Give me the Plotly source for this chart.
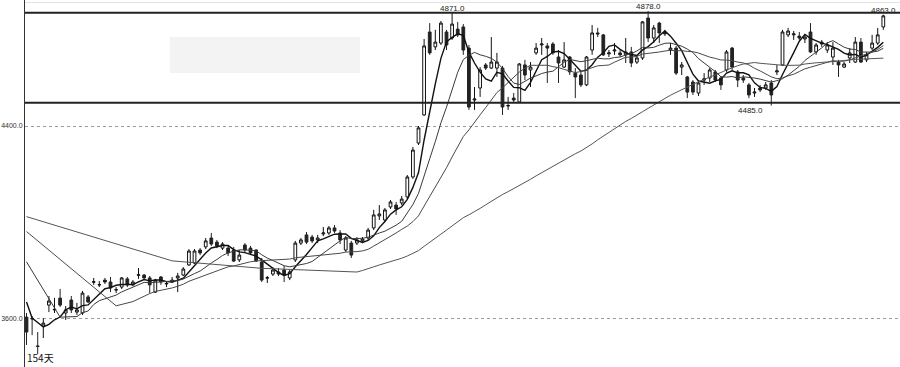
import plotly.graph_objects as go
import pandas as pd

# ---------------- data ----------------
opens = [3605, 3600, 3485, 3568, 3655, 3635, 3684, 3622, 3676, 3626,
         3622, 3689, 3750, 3739, 3759, 3751, 3718, 3730, 3764, 3739,
         3779, 3780, 3768, 3709, 3772, 3743, 3751, 3768, 3780, 3822,
         3830, 3884, 3897, 3934, 3917, 3892, 3892, 3884, 3843, 3905,
         3892, 3884, 3834, 3767, 3784, 3793, 3801, 3768, 3843, 3913,
         3947, 3938, 3926, 3951, 3955, 3976, 3955, 3884, 3913, 3913,
         3922, 3934, 3976, 4026, 4009, 4063, 4071, 4080, 4105, 4188,
         4329, 4446, 4791, 4729, 4745, 4791, 4766, 4803, 4812, 4724,
         4508, 4558, 4654, 4641, 4641, 4641, 4483, 4516, 4500, 4654,
         4633, 4704, 4737, 4733, 4741, 4687, 4645, 4687, 4620, 4612,
         4571, 4716, 4787, 4779, 4700, 4712, 4704, 4696, 4708, 4666,
         4683, 4849, 4766, 4828, 4791, 4716, 4724, 4645, 4604, 4583,
         4537, 4591, 4600, 4625, 4600, 4633, 4724, 4625, 4600, 4571,
         4537, 4558, 4558, 4579, 4625, 4654, 4779, 4779, 4774, 4762,
         4791, 4708, 4749, 4716, 4687, 4666, 4645, 4683, 4666, 4749,
         4675, 4724, 4745, 4812]
highs = [3622, 3609, 3543, 3601, 3693, 3685, 3722, 3651, 3693, 3664,
         3714, 3697, 3768, 3755, 3768, 3772, 3730, 3772, 3772, 3759,
         3809, 3784, 3776, 3764, 3776, 3755, 3772, 3789, 3813, 3888,
         3888, 3892, 3934, 3955, 3926, 3917, 3901, 3897, 3884, 3913,
         3901, 3888, 3851, 3776, 3813, 3809, 3818, 3801, 3922, 3934,
         3959, 3947, 3947, 3980, 3984, 3988, 3967, 3942, 3922, 3938,
         3938, 3976, 4051, 4071, 4059, 4092, 4084, 4109, 4196, 4313,
         4400, 4762, 4828, 4800, 4837, 4800, 4871, 4833, 4824, 4737,
         4562, 4645, 4662, 4770, 4704, 4650, 4521, 4537, 4662, 4675,
         4666, 4745, 4766, 4745, 4749, 4716, 4749, 4691, 4641, 4625,
         4691, 4820, 4808, 4783, 4716, 4745, 4716, 4766, 4729, 4695,
         4837, 4878, 4820, 4833, 4800, 4745, 4733, 4666, 4608, 4591,
         4591, 4620, 4641, 4633, 4608, 4716, 4729, 4633, 4612, 4579,
         4558, 4571, 4583, 4591, 4654, 4800, 4808, 4795, 4791, 4779,
         4828, 4745, 4758, 4749, 4749, 4675, 4666, 4724, 4770, 4766,
         4708, 4779, 4808, 4863]
lows = [3489, 3530, 3451, 3518, 3626, 3622, 3647, 3593, 3622, 3614,
        3614, 3664, 3739, 3730, 3743, 3709, 3705, 3722, 3730, 3734,
        3764, 3764, 3705, 3705, 3739, 3730, 3750, 3709, 3776, 3818,
        3826, 3863, 3888, 3901, 3892, 3884, 3859, 3834, 3834, 3876,
        3863, 3834, 3751, 3747, 3776, 3776, 3751, 3759, 3834, 3905,
        3909, 3913, 3913, 3942, 3947, 3955, 3909, 3876, 3851, 3905,
        3913, 3926, 3967, 4009, 4001, 4055, 4030, 4071, 4096, 4180,
        4321, 4442, 4696, 4716, 4737, 4716, 4758, 4770, 4696, 4467,
        4467, 4521, 4633, 4637, 4604, 4446, 4467, 4500, 4496, 4591,
        4562, 4696, 4696, 4579, 4696, 4579, 4641, 4612, 4516, 4562,
        4566, 4696, 4770, 4691, 4687, 4696, 4687, 4662, 4645, 4658,
        4675, 4749, 4745, 4745, 4774, 4696, 4612, 4612, 4516, 4529,
        4525, 4571, 4583, 4583, 4550, 4625, 4633, 4562, 4579, 4516,
        4521, 4541, 4550, 4485, 4612, 4650, 4770, 4758, 4758, 4745,
        4704, 4696, 4729, 4704, 4654, 4604, 4641, 4662, 4662, 4662,
        4666, 4716, 4737, 4800]
closes = [3543, 3598, 3483, 3580, 3672, 3637, 3655, 3635, 3635, 3635,
          3705, 3668, 3752, 3740, 3751, 3726, 3719, 3768, 3739, 3751,
          3781, 3768, 3739, 3759, 3751, 3745, 3759, 3776, 3805, 3880,
          3880, 3872, 3922, 3909, 3901, 3909, 3872, 3838, 3863, 3884,
          3872, 3838, 3759, 3769, 3801, 3784, 3780, 3793, 3913, 3926,
          3917, 3922, 3934, 3955, 3976, 3963, 3926, 3934, 3863, 3926,
          3930, 3967, 4030, 4034, 4051, 4084, 4055, 4096, 4188, 4300,
          4392, 4733, 4704, 4749, 4828, 4737, 4824, 4779, 4716, 4479,
          4512, 4633, 4641, 4666, 4666, 4479, 4485, 4508, 4658, 4612,
          4645, 4724, 4741, 4724, 4704, 4662, 4675, 4625, 4604, 4571,
          4687, 4787, 4783, 4696, 4704, 4716, 4696, 4708, 4662, 4683,
          4833, 4766, 4808, 4787, 4783, 4724, 4620, 4654, 4541, 4541,
          4579, 4596, 4633, 4591, 4571, 4708, 4645, 4591, 4591, 4529,
          4541, 4550, 4571, 4529, 4629, 4791, 4795, 4783, 4766, 4770,
          4708, 4737, 4741, 4737, 4724, 4654, 4658, 4704, 4749, 4666,
          4696, 4745, 4779, 4858]

# moving-average values at the left edge (history before the window)
ma5_lead = {0: 3668, 1: 3601, 3: 3564}
ma10_lead = {0: 3835, 6: 3605}
ma20_lead = {0: 3961, 16: 3652}
ma60_lead = {0: 4023, 26: 3839, 42: 3808}

y_ticks = [3600, 4400]
y_tick_text = ["3600.0", "4400.0"]
level_lines = [4871, 4497]
price_labels = [(76, 4871, "4871.0"), (111, 4878, "4878.0"),
                (133, 4485, "4485.0"), (153, 4863, "4863.0")]
days_label = "154天"

# ---------------- figure ----------------
idx = list(range(len(closes)))
fig = go.Figure()


def ma(n, lead):
    s = pd.Series(closes, dtype=float).rolling(n).mean()
    for k, v in lead.items():
        s[k] = v
    return s


ma_styles = [(5, ma5_lead, "#111111", 1.4),
             (10, ma10_lead, "#3a3a3a", 1.0),
             (20, ma20_lead, "#4a4a4a", 1.0),
             (60, ma60_lead, "#555555", 1.0)]
for n, lead, col, w in ma_styles:
    fig.add_trace(go.Scatter(x=idx, y=ma(n, lead), mode="lines",
                             connectgaps=True, line=dict(color=col, width=w),
                             hoverinfo="skip"))

fig.add_trace(go.Candlestick(
    x=idx, open=opens, high=highs, low=lows, close=closes,
    increasing=dict(fillcolor="white", line=dict(color="#111111", width=1)),
    decreasing=dict(fillcolor="#222222", line=dict(color="#222222", width=1)),
    whiskerwidth=0,
))

shapes = []
for lv in level_lines:
    shapes.append(dict(type="line", xref="paper", x0=0, x1=1, yref="y",
                       y0=lv, y1=lv, line=dict(color="#222222", width=2)))
# faint grey box and faint top rule
shapes.append(dict(type="rect", xref="paper", yref="paper",
                   x0=0.1657, x1=0.3829, y0=0.801, y1=0.899,
                   fillcolor="#f3f3f3", line=dict(width=0), layer="below"))
shapes.append(dict(type="line", xref="paper", yref="paper", x0=0, x1=1,
                   y0=0.993, y1=0.993, line=dict(color="#e2e2e2", width=1)))

annotations = []
for i, v, t in price_labels:
    if t == "4485.0":
        annotations.append(dict(x=i, y=v, text=t, showarrow=False,
                                xanchor="center", yanchor="top", xshift=-21,
                                yshift=2, font=dict(size=8, color="#222",
                                                    family="Liberation Sans")))
    else:
        annotations.append(dict(x=i, y=v, text=t, showarrow=False,
                                xanchor="center", yanchor="bottom", yshift=-2,
                                font=dict(size=8, color="#222",
                                          family="Liberation Sans")))
annotations.append(dict(xref="paper", yref="paper", x=0, y=0.025,
                        text=days_label, showarrow=False, xanchor="left",
                        yanchor="middle",
                        font=dict(size=10, color="#111",
                                  family="Noto Sans CJK SC")))

fig.update_layout(
    width=900, height=367,
    margin=dict(l=25, r=0, t=0, b=0),
    paper_bgcolor="white", plot_bgcolor="white",
    showlegend=False,
    shapes=shapes, annotations=annotations,
    xaxis=dict(range=[-0.27, 155.98], showgrid=False, zeroline=False,
               showticklabels=False, ticks="", showline=False,
               rangeslider=dict(visible=False), fixedrange=True),
    yaxis=dict(range=[3397.5, 4924.1], tickvals=y_ticks, ticktext=y_tick_text,
               showgrid=True, gridcolor="#9a9a9a", griddash="dot", gridwidth=1,
               zeroline=False, showline=True, linecolor="#333333", linewidth=1,
               ticks="", ticklabelstandoff=0, automargin=False,
               tickfont=dict(size=7, color="#333", family="Liberation Sans")),
)

fig.write_html("out.html")
